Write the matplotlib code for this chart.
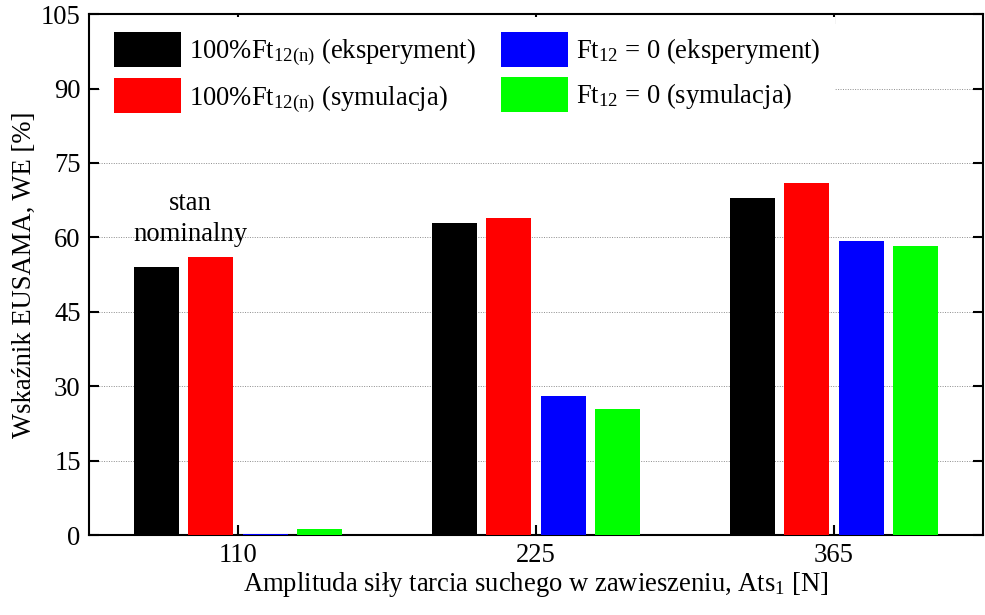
import numpy as np
import matplotlib
matplotlib.use("Agg")
import matplotlib.pyplot as plt

plt.rcParams["font.family"] = ["Liberation Serif", "DejaVu Serif"]
plt.rcParams["mathtext.fontset"] = "custom"
plt.rcParams["mathtext.rm"] = "Liberation Serif"
plt.rcParams["mathtext.it"] = "Liberation Serif:italic"

# data
amplitudes = ["110", "225", "365"]
exp_nominal = [54, 63, 68]
sim_nominal = [56, 64, 71]
exp_zero = [0.3, 28, 59.3]
sim_zero = [1.3, 25.4, 58.3]

series = [exp_nominal, sim_nominal, exp_zero, sim_zero]
labels = [r"100%Ft$_{\mathrm{12(n)}}$ (eksperyment)",
          r"100%Ft$_{\mathrm{12(n)}}$ (symulacja)",
          r"Ft$_{\mathrm{12}}$ = 0 (eksperyment)",
          r"Ft$_{\mathrm{12}}$ = 0 (symulacja)"]
colors = ["#000000", "#ff0000", "#0000ff", "#00ff00"]
yticks = [0, 15, 30, 45, 60, 75, 90, 105]

fs = 19.2

fig = plt.figure(figsize=(9.85, 6.15), dpi=100)
ax = fig.add_axes([0.0904, 0.130, 0.9076, 0.847])

x = np.arange(1, len(amplitudes) + 1)
step = 0.182
width = 0.151
handles = []
for i, vals in enumerate(series):
    h = ax.bar(x + (i - 1.5) * step, vals, width=width, color=colors[i],
               edgecolor="none", label=labels[i], zorder=3)
    handles.append(h)

ax.set_xlim(0.5, 3.5)
ax.set_ylim(0, 105)
ax.set_xticks(x)
ax.set_xticklabels(amplitudes)
ax.set_yticks(yticks)
ax.tick_params(axis="both", direction="in", length=7, width=1.5, labelsize=fs,
               top=True, right=True, pad=6)
for sp in ax.spines.values():
    sp.set_linewidth(1.5)
ax.yaxis.grid(True, linestyle=(0, (1, 1.5)), color="0.55", linewidth=0.7, zorder=0)
ax.set_axisbelow(True)

ax.set_xlabel(r"Amplituda siły tarcia suchego w zawieszeniu, Ats$_{\mathrm{1}}$ [N]",
              fontsize=fs, labelpad=1)
ax.set_ylabel("Wskaźnik EUSAMA, WE [%]", fontsize=fs, labelpad=3)

ax.text(0.84, 59.2, "stan\nnominalny", ha="center", va="baseline",
        multialignment="center", fontsize=fs, linespacing=1.35, zorder=4)

leg = ax.legend(handles=handles, ncol=2, loc="upper left",
                bbox_to_anchor=(0.012, 0.994), fontsize=fs,
                frameon=True, fancybox=False, facecolor="white",
                edgecolor="none", framealpha=1.0, handlelength=2.5,
                handleheight=1.65, handletextpad=0.3, labelspacing=0.38,
                columnspacing=0.95, borderpad=0.55, borderaxespad=0)
leg.set_zorder(5)

fig.savefig("out.png", dpi=100)
